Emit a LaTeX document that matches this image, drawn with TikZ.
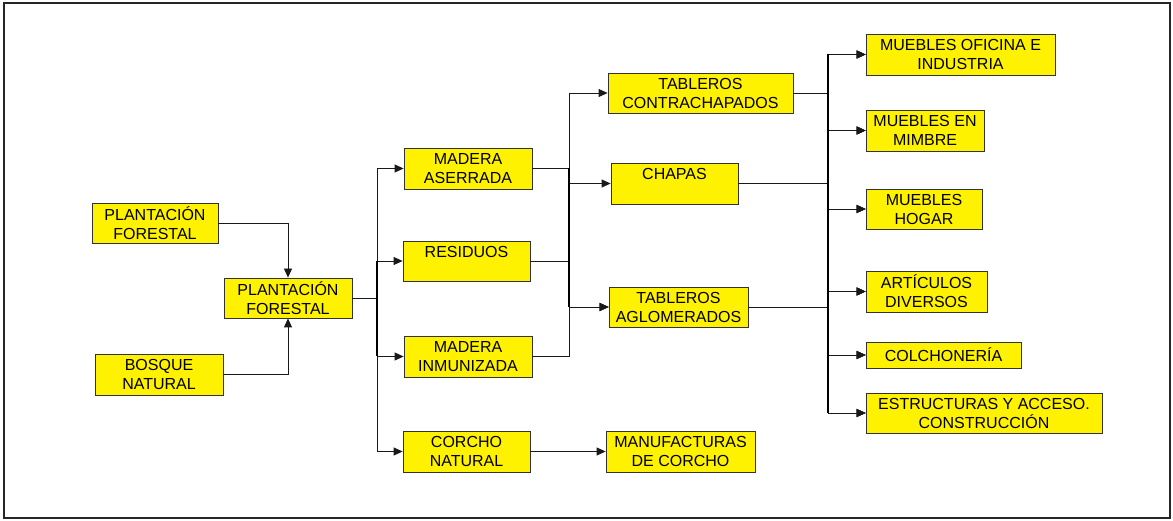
\documentclass[tikz,border=0pt]{standalone}
\usepackage{fontspec}
\setmainfont{Liberation Sans}
\usetikzlibrary{arrows.meta,calc}
\begin{document}
\begin{tikzpicture}[x=1pt,y=-1pt,
 bx/.style={draw=black!80, line width=0.8pt, fill=yellow, inner sep=0pt, align=center, font=\fontsize{16}{19}\selectfont},
 ln/.style={draw=black!90, line width=0.8pt},
 ar/.style={ln, -{Triangle[length=9pt,width=8pt]}},
 busln/.style={draw=black, line width=1.7pt}]
\useasboundingbox (0,0) rectangle (1173,521);
\draw[line width=2.2pt, black!85] (4,3) rectangle (1170,518);

\node[bx, minimum width=126pt, minimum height=40pt] (pf1) at (155,223) {PLANTACIÓN\\FORESTAL};
\node[bx, minimum width=128pt, minimum height=41pt] (bn) at (159,374.5) {BOSQUE\\NATURAL};
\node[bx, minimum width=128pt, minimum height=40pt] (pf) at (288,298) {PLANTACIÓN\\FORESTAL};
\node[bx, minimum width=128pt, minimum height=41pt] (ma) at (468,168.5) {MADERA\\ASERRADA};
\node[bx, minimum width=127pt, minimum height=40pt] (res) at (466.5,261) {RESIDUOS\\\mbox{}};
\node[bx, minimum width=128pt, minimum height=41pt] (mi) at (468,356.5) {MADERA\\INMUNIZADA};
\node[bx, minimum width=127pt, minimum height=41pt] (cn) at (466.5,451.5) {CORCHO\\NATURAL};
\node[bx, minimum width=149pt, minimum height=41pt] (mc) at (680.5,451.5) {MANUFACTURAS\\DE CORCHO};
\node[bx, minimum width=185pt, minimum height=40pt] (tc) at (700.5,93) {TABLEROS\\CONTRACHAPADOS};
\node[bx, minimum width=127pt, minimum height=41pt] (ch) at (674.5,183.5) {CHAPAS\\\mbox{}};
\node[bx, minimum width=139pt, minimum height=40pt] (ta) at (678.5,307) {TABLEROS\\AGLOMERADOS};
\node[bx, minimum width=189pt, minimum height=41pt] (mo) at (960.5,54.5) {MUEBLES OFICINA E\\INDUSTRIA};
\node[bx, minimum width=118pt, minimum height=41pt] (mm) at (925,130.5) {MUEBLES EN\\MIMBRE};
\node[bx, minimum width=116pt, minimum height=40pt] (mh) at (924,209) {MUEBLES\\HOGAR};
\node[bx, minimum width=121pt, minimum height=41pt] (ad) at (926.5,291.5) {ARTÍCULOS\\DIVERSOS};
\node[bx, minimum width=155pt, minimum height=26pt] (co) at (943.5,355) {COLCHONERÍA};
\node[bx, minimum width=236pt, minimum height=40pt] (es) at (984,413) {ESTRUCTURAS Y ACCESO.\\CONSTRUCCIÓN};

\coordinate (b1) at (377,0);
\coordinate (b2) at (569,0);
\coordinate (b3) at (828,0);

\draw[ar] (pf1.east) -| (pf.north);
\draw[ar] (bn.east) -| (pf.south);

\foreach \t in {ma,res,mi,cn}
  \draw[ar] (pf.east) -- (pf.east -| b1) |- (\t.west);
\draw[ar] (cn.east) -- (mc.west);

\foreach \t in {tc,ch,ta}
  \draw[ar] (ma.east) -- (ma.east -| b2) |- (\t.west);
\draw[ar] (res.east) -- (res.east -| b2) |- (ta.west);
\draw[ar] (mi.east) -- (mi.east -| b2) |- (ta.west);

\foreach \s in {tc,ch,ta}
  \foreach \t in {mo,mm,mh,ad,co,es}
    \draw[ar] (\s.east) -- (\s.east -| b3) |- (\t.west);

\draw[busln] (res.east -| b1) -- (mi.east -| b1);
\draw[busln] (ma.east -| b2) -- (ta.west -| b2);
\draw[busln] (mo.west -| b3) -- (es.west -| b3);
\end{tikzpicture}
\end{document}
